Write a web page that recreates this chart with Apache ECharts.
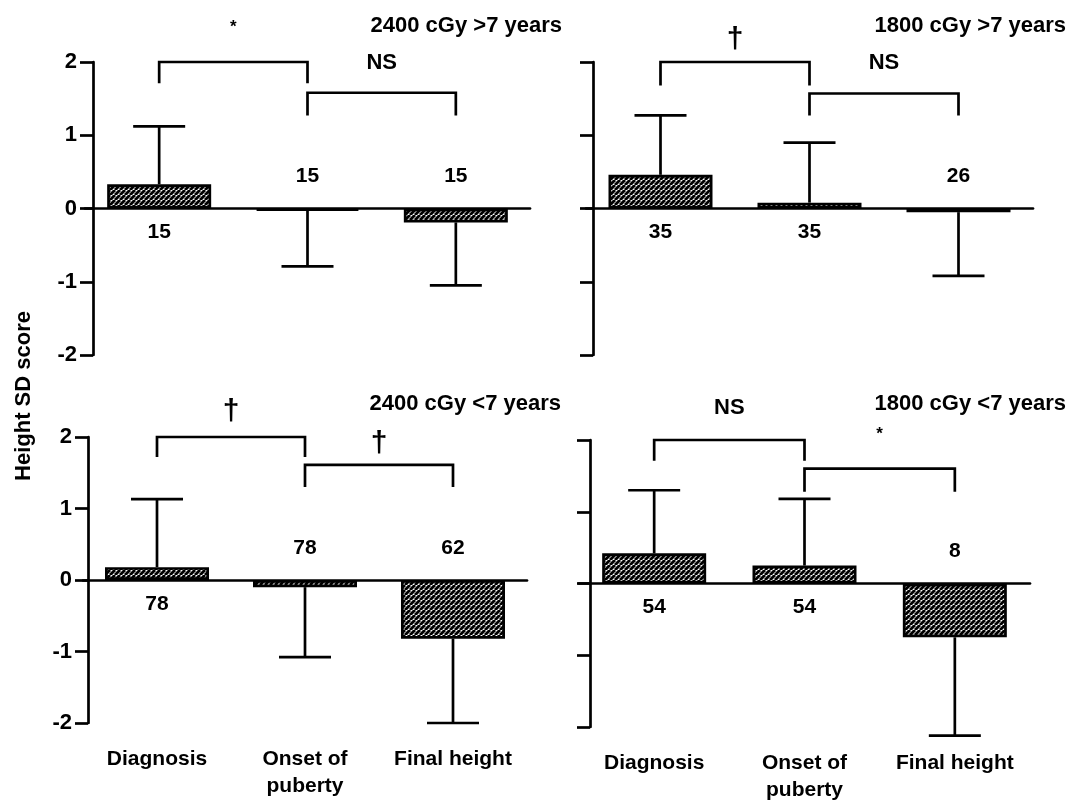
<!DOCTYPE html>
<html><head><meta charset="utf-8">
<script src="https://cdn.jsdelivr.net/npm/echarts@6/dist/echarts.min.js"></script>
<style>html,body{margin:0;padding:0;background:#fff}#c{width:1084px;height:804px}</style>
</head><body><div id="c"></div>
<script>
// ---------- data ----------
const categories = ['Diagnosis', 'Onset of\npuberty', 'Final height'];
const panelTitles = ['2400 cGy >7 years', '1800 cGy >7 years', '2400 cGy <7 years', '1800 cGy <7 years'];
const yTickMin = -2, yTickMax = 2, yTickStep = 1;
const yAxisTitle = 'Height SD score';

// mean height SD score per time point
const meanTL = [0.33, -0.03, -0.19];
const meanTR = [0.46, 0.08, -0.05];
const meanBL = [0.18, -0.10, -0.82];
const meanBR = [0.42, 0.25, -0.75];
// end of the SD whisker
const sdEndTL = [1.12, -0.79, -1.05];
const sdEndTR = [1.27, 0.90, -0.92];
const sdEndBL = [1.13, -1.08, -2.00];
const sdEndBR = [1.30, 1.18, -2.12];
// number of patients
const nTL = [15, 15, 15];
const nTR = [35, 35, 26];
const nBL = [78, 78, 62];
const nBR = [54, 54, 8];
// significance labels: [first bracket, second bracket]
const sigTL = ['*', 'NS'];
const sigTR = ['\u2020', 'NS'];
const sigBL = ['\u2020', '\u2020'];
const sigBR = ['NS', '*'];
// bracket levels (SD-score units): [from cat, to cat, top, leg end, label level]
const bracketsTL = [[0, 1, 2.0, 1.71, 2.48], [1, 2, 1.58, 1.27, 1.99]];
const bracketsTR = [[0, 1, 2.0, 1.68, 2.30], [1, 2, 1.57, 1.27, 1.99]];
const bracketsBL = [[0, 1, 2.0, 1.72, 2.36], [1, 2, 1.61, 1.30, 1.90]];
const bracketsBR = [[0, 1, 2.0, 1.71, 2.45], [1, 2, 1.60, 1.28, 2.08]];

// ---------- layout / style ----------
const FONT = '"Liberation Sans", Arial, Helvetica, sans-serif';
const panels = [
  {mean: meanTL, sd: sdEndTL, n: nTL, sig: sigTL, br: bracketsTL, grid: {left: 85, top: 62, width: 445, height: 293}, yOff: -8, yLabels: true, xLabels: false},
  {mean: meanTR, sd: sdEndTR, n: nTR, sig: sigTR, br: bracketsTR, grid: {left: 586, top: 62, width: 447, height: 293}, yOff: -7, yLabels: false, xLabels: false},
  {mean: meanBL, sd: sdEndBL, n: nBL, sig: sigBL, br: bracketsBL, grid: {left: 83, top: 437, width: 444, height: 286}, yOff: -5, yLabels: true, xLabels: true},
  {mean: meanBR, sd: sdEndBR, n: nBR, sig: sigBR, br: bracketsBR, grid: {left: 579, top: 440, width: 451, height: 287}, yOff: -11, yLabels: false, xLabels: true}
];
const titlePos = [{right: 522, top: 15}, {right: 18, top: 15}, {right: 523, top: 393}, {right: 18, top: 393}];

function hatch() {
  const s = 5;
  const c = document.createElement('canvas');
  c.width = s; c.height = s;
  const g = c.getContext('2d');
  g.fillStyle = '#fff'; g.fillRect(0, 0, s, s);
  g.strokeStyle = '#000'; g.lineWidth = 2.9;
  g.beginPath();
  for (let k = -1; k <= 1; k++) { g.moveTo(k * s, s); g.lineTo(k * s + s, 0); }
  g.stroke();
  return c;
}
const hatchImg = hatch();

const LW = 2.7;
const option = {
  animation: false,
  backgroundColor: '#fff',
  title: panelTitles.map((t, k) => ({
    text: t, right: titlePos[k].right, top: titlePos[k].top, padding: 0,
    textStyle: {fontFamily: FONT, fontSize: 22, fontWeight: 'bold', color: '#000'}
  })),
  graphic: [{
    type: 'text', x: 24, y: 396, rotation: Math.PI / 2,
    style: {text: yAxisTitle, font: 'bold 22px ' + FONT, fill: '#000', align: 'center', verticalAlign: 'middle', textAlign: 'center', textVerticalAlign: 'middle'}
  }],
  grid: panels.map(p => Object.assign({containLabel: false}, p.grid)),
  xAxis: [],
  yAxis: [],
  series: []
};

panels.forEach((p, k) => {
  option.xAxis.push({
    type: 'category', gridIndex: k, data: categories, position: 'bottom',
    axisLine: {onZero: true, lineStyle: {color: '#000', width: LW}},
    axisTick: {show: false}, axisLabel: {show: false}, splitLine: {show: false}
  });
  option.yAxis.push({
    type: 'value', gridIndex: k, min: yTickMin, max: yTickMax, interval: yTickStep, offset: p.yOff,
    axisLine: {show: true, lineStyle: {color: '#000', width: LW}},
    axisTick: {show: true, inside: false, length: 13, lineStyle: {color: '#000', width: LW}},
    axisLabel: {show: p.yLabels, margin: 16, fontFamily: FONT, fontSize: 22, fontWeight: 'bold', color: '#000'},
    splitLine: {show: false}
  });
});
// label axes for the bottom row
panels.forEach((p, k) => {
  if (!p.xLabels) return;
  option.xAxis.push({
    type: 'category', gridIndex: k, data: categories, position: 'bottom',
    axisLine: {show: false, onZero: false}, axisTick: {show: false}, splitLine: {show: false},
    axisLabel: {show: true, interval: 0, margin: 23, fontFamily: FONT, fontSize: 21, fontWeight: 'bold', lineHeight: 27, color: '#000'}
  });
});

panels.forEach((p, k) => {
  // bars
  option.series.push({
    type: 'bar', xAxisIndex: k, yAxisIndex: k, barWidth: 104, z: 3,
    data: p.mean,
    itemStyle: {color: {image: hatchImg, repeat: 'repeat'}, borderColor: '#000', borderWidth: LW}
  });
  // SD whiskers
  option.series.push({
    type: 'custom', xAxisIndex: k, yAxisIndex: k, z: 2,
    data: p.mean.map((m, i) => [i, m, p.sd[i]]),
    renderItem: (params, api) => {
      const i = api.value(0);
      const a = api.coord([i, api.value(1)]);
      const b = api.coord([i, api.value(2)]);
      return {type: 'group', children: [
        {type: 'line', shape: {x1: a[0], y1: a[1], x2: b[0], y2: b[1]}, style: {stroke: '#000', lineWidth: LW}},
        {type: 'line', shape: {x1: b[0] - 26, y1: b[1], x2: b[0] + 26, y2: b[1]}, style: {stroke: '#000', lineWidth: LW}}
      ]};
    }
  });
  // patient counts
  option.series.push({
    type: 'custom', xAxisIndex: k, yAxisIndex: k, z: 4,
    data: p.n.map((n, i) => [i, n, p.mean[i]]),
    renderItem: (params, api) => {
      const i = api.value(0);
      const base = api.coord([i, 0]);
      const y = api.value(2) > 0 ? base[1] + 24 : base[1] - 32;
      return {type: 'text', x: base[0], y: y,
        style: {text: String(api.value(1)), font: 'bold 21px ' + FONT, fill: '#000', align: 'center', verticalAlign: 'middle', textAlign: 'center', textVerticalAlign: 'middle'}};
    }
  });
  // brackets with significance
  option.series.push({
    type: 'custom', xAxisIndex: k, yAxisIndex: k, z: 4,
    data: p.br,
    renderItem: (params, api) => {
      const i0 = api.value(0), i1 = api.value(1);
      const top0 = api.coord([i0, api.value(2)]);
      const top1 = api.coord([i1, api.value(2)]);
      const leg0 = api.coord([i0, api.value(3)]);
      const leg1 = api.coord([i1, api.value(3)]);
      const lab = api.coord([i0, api.value(4)]);
      const txt = p.sig[params.dataIndex];
      let font = 'bold 22px ' + FONT;
      if (txt === '*') font = 'bold 17px ' + FONT;
      if (txt === '\u2020') font = 'bold 30px ' + FONT;
      return {type: 'group', children: [
        {type: 'polyline', shape: {points: [leg0, top0, top1, leg1]}, style: {stroke: '#000', lineWidth: LW, fill: null}},
        {type: 'text', x: (top0[0] + top1[0]) / 2, y: lab[1],
          style: {text: txt, font: font, fill: '#000', align: 'center', verticalAlign: 'middle', textAlign: 'center', textVerticalAlign: 'middle'}}
      ]};
    }
  });
});

const chart = echarts.init(document.getElementById('c'), null, {renderer: 'canvas'});
chart.setOption(option);
</script>
</body></html>
